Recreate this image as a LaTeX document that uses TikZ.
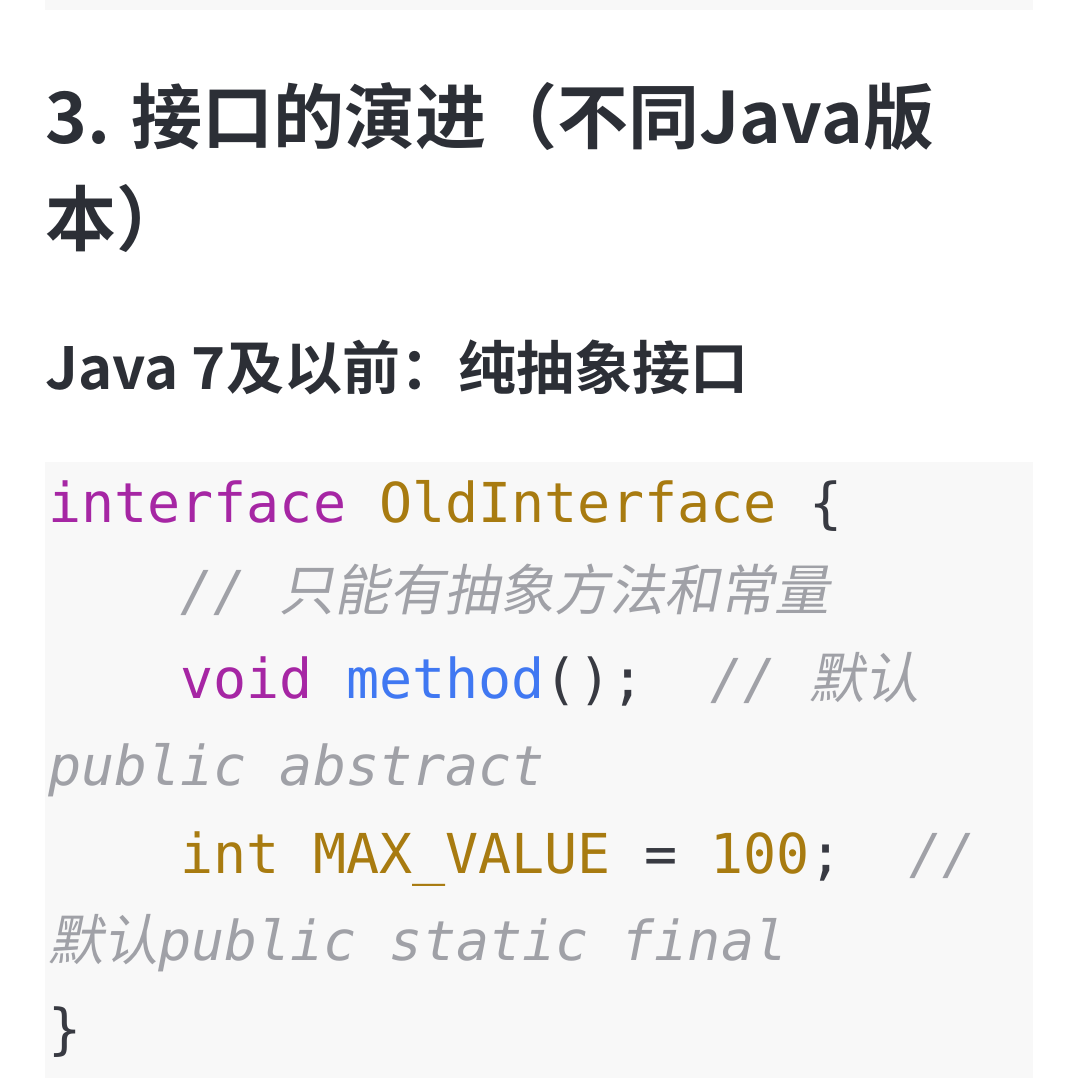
\documentclass[tikz,border=0pt]{standalone}
\usepackage{fontspec}
\setmainfont{Noto Sans CJK SC}
\newfontfamily\hfont{Noto Sans CJK SC}[BoldFont={* Bold}]
\newfontfamily\cmono{DejaVu Sans Mono}
\newfontfamily\ccjk{Noto Sans CJK SC}[FakeSlant=0.2]
\definecolor{bgc}{HTML}{F8F8F8}
\definecolor{txt}{HTML}{2C2F36}
\definecolor{kw}{HTML}{A626A4}
\definecolor{ty}{HTML}{A87B10}
\definecolor{fn}{HTML}{4078F2}
\definecolor{cm}{HTML}{A0A1A7}
\definecolor{pl}{HTML}{383A42}
\begin{document}
\begin{tikzpicture}[x=1pt,y=-1pt,
  codeline/.style={anchor=base west,inner sep=0pt,font=\cmono\fontsize{55}{60}\selectfont,text=pl},
  head/.style={anchor=base west,inner sep=0pt,text=txt}]
\useasboundingbox (0,0) rectangle (1075,1088);
\fill[bgc] (45,0) rectangle (1033,10);
\fill[bgc] (45,462) rectangle (1033,1078);
\node[head,font=\hfont\bfseries\fontsize{71}{72}\selectfont] (h1) at (45,143) {3. 接口的演进（不同Java版};
\node[head,font=\hfont\bfseries\fontsize{71}{72}\selectfont] (h2) at (45,245) {本）};
\node[head,font=\hfont\bfseries\fontsize{58}{60}\selectfont] (h3) at (45,389) {Java 7及以前：纯抽象接口};
\node[codeline] (l1) at (48,522) {\textcolor{kw}{interface} \textcolor{ty}{OldInterface} \{};
\node[codeline] (l2) at (48,610) {\phantom{xxxx}\textcolor{cm}{\itshape // {\ccjk 只能有抽象方法和常量}}};
\node[codeline] (l3) at (48,698) {\phantom{xxxx}\textcolor{kw}{void} \textcolor{fn}{method}();\phantom{xx}\textcolor{cm}{\itshape // {\ccjk 默认}}};
\node[codeline] (l4) at (48,785) {\textcolor{cm}{\itshape public abstract}};
\node[codeline] (l5) at (48,873) {\phantom{xxxx}\textcolor{ty}{int MAX\_VALUE} = \textcolor{ty}{100};\phantom{xx}\textcolor{cm}{\itshape //}};
\node[codeline] (l6) at (48,960) {\textcolor{cm}{\itshape{\ccjk 默认}public static final}};
\node[codeline] (l7) at (48,1048) {\}};
\end{tikzpicture}
\end{document}
